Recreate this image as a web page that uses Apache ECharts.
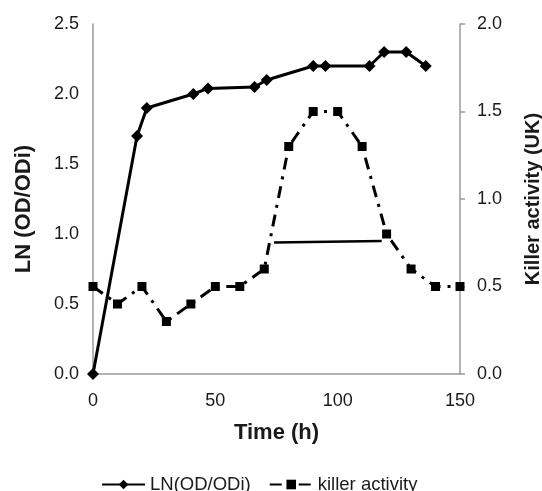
<!DOCTYPE html>
<html>
<head>
<meta charset="utf-8">
<script src="https://cdn.jsdelivr.net/npm/echarts@6/dist/echarts.min.js"></script>
<style>
  html, body { margin: 0; padding: 0; background: #fff; }
  #chart { width: 542px; height: 491px; }
</style>
</head>
<body>
<div id="chart"></div>
<script>
// LN(OD/ODi) - left axis
const lnTime = [0, 18, 22, 41, 47, 66, 71, 90, 95, 113, 119, 128, 136]
const lnValue = [0, 1.7, 1.9, 2.0, 2.04, 2.05, 2.1, 2.2, 2.2, 2.2, 2.3, 2.3, 2.2]

// killer activity - right axis
const killerTime = [0, 10, 20, 30, 40, 50, 60, 70, 80, 90, 100, 110, 120, 130, 140, 150]
const killerValue = [0.5, 0.4, 0.5, 0.3, 0.4, 0.5, 0.5, 0.6, 1.3, 1.5, 1.5, 1.3, 0.8, 0.6, 0.5, 0.5]

// stray solid segment drawn in the original figure
const strayTime = [74, 118]
const strayValue = [0.94, 0.95]

const textColor = '#1a1a1a'
const axisColor = '#9a9a9a'
const font = 'Liberation Sans, Arial, sans-serif'

const zip = (xs, ys) => xs.map((x, i) => [x, ys[i]])

const chart = echarts.init(document.getElementById('chart'), null, { renderer: 'canvas' })

chart.setOption({
  animation: false,
  textStyle: { fontFamily: font },
  grid: { left: 93, right: 82, top: 24, bottom: 117, outerBoundsMode: 'none' },
  legend: {
    data: ['LN(OD/ODi)', 'killer activity'],
    left: 96,
    top: 470,
    itemWidth: 43,
    itemHeight: 12,
    itemGap: 18,
    textStyle: { color: textColor, fontSize: 18.5, fontFamily: font }
  },
  xAxis: {
    type: 'value',
    min: 0,
    max: 150,
    interval: 50,
    name: 'Time (h)',
    nameLocation: 'middle',
    nameGap: 48,
    nameTextStyle: { color: textColor, fontSize: 22, fontWeight: 'bold', fontFamily: font },
    axisLine: { show: true, lineStyle: { color: axisColor, width: 1.5 } },
    axisTick: { show: false },
    splitLine: { show: false },
    axisLabel: { color: textColor, fontSize: 18, margin: 18, fontFamily: font }
  },
  yAxis: [
    {
      type: 'value',
      min: 0,
      max: 2.5,
      interval: 0.5,
      name: 'LN (OD/ODi)',
      nameLocation: 'middle',
      nameGap: 58,
      nameRotate: 90,
      nameTextStyle: {
        color: textColor, fontSize: 22, fontWeight: 'bold', fontFamily: font,
        padding: [0, 20, 0, 0]
      },
      axisLine: { show: true, lineStyle: { color: axisColor, width: 1.5 } },
      axisTick: { show: false },
      splitLine: { show: false },
      axisLabel: {
        color: textColor, fontSize: 18, margin: 14, fontFamily: font,
        formatter: v => v.toFixed(1)
      }
    },
    {
      type: 'value',
      position: 'right',
      min: 0,
      max: 2,
      interval: 0.5,
      name: 'Killer activity (UK)',
      nameLocation: 'middle',
      nameGap: 63,
      nameRotate: 90,
      nameTextStyle: { color: textColor, fontSize: 20, fontWeight: 'bold', fontFamily: font },
      axisLine: { show: true, lineStyle: { color: axisColor, width: 1.5 } },
      axisTick: { show: true, length: 5, lineStyle: { color: axisColor, width: 1.5 } },
      splitLine: { show: false },
      axisLabel: {
        color: textColor, fontSize: 18, margin: 17, fontFamily: font,
        formatter: v => v.toFixed(1)
      }
    }
  ],
  series: [
    {
      name: 'LN(OD/ODi)',
      type: 'line',
      yAxisIndex: 0,
      data: zip(lnTime, lnValue),
      symbol: 'diamond',
      symbolSize: 12,
      clip: false,
      itemStyle: { color: '#000' },
      lineStyle: { color: '#000', width: 3 },
      z: 3
    },
    {
      name: 'killer activity',
      type: 'line',
      yAxisIndex: 1,
      data: zip(killerTime, killerValue),
      symbol: 'rect',
      symbolSize: 9,
      clip: false,
      itemStyle: { color: '#000' },
      lineStyle: { color: '#000', width: 3, type: [12, 7, 3, 7] },
      z: 3
    },
    {
      name: 'stray',
      type: 'line',
      yAxisIndex: 0,
      data: zip(strayTime, strayValue),
      symbol: 'none',
      lineStyle: { color: '#000', width: 2.5 },
      silent: true
    }
  ]
})
</script>
</body>
</html>
